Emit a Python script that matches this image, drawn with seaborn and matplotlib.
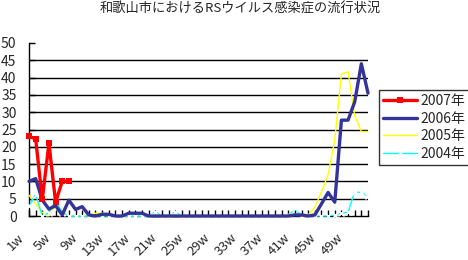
import numpy as np
import pandas as pd
import matplotlib
matplotlib.use("Agg")
import matplotlib.pyplot as plt
import matplotlib.transforms as mtransforms
import seaborn as sns

sns.set_theme(style="white")
plt.rcParams['font.family'] = ['Noto Sans CJK JP', 'DejaVu Sans']

title = "和歌山市におけるRSウイルス感染症の流行状況"
weeks = [f"{i}w" for i in range(1, 53)]
tick_labels = ["1w", "5w", "9w", "13w", "17w", "21w", "25w", "29w", "33w", "37w", "41w", "45w", "49w"]

s2007 = [23, 22.3, 4.8, 21, 4, 10, 10]

s2006 = [10, 10.8, 4.6, 2, 3, 0.3, 4.6, 1.9, 2.7, 0.3,
         0, 0.5, 0.5, 0, 0, 0.8, 0.8, 0.8, 0, 0,
         0, 0, 0, 0, 0, 0, 0, 0, 0, 0,
         0, 0, 0, 0, 0, 0, 0, 0, 0, 0,
         0.3, 0.3, 0, 0.3, 3.5, 6.8, 4, 27.7, 27.7, 33,
         44, 35.5]

s2005 = [6, 3.5, 1, 0, 3, 1.5, 0, 0, 0, 0,
         0.8, 0.8, 0.5, 0, 0, 0, 0, 0, 0, 0.5,
         0, 0, 0.5, 0, 0, 0, 0, 0, 0, 0,
         0, 0, 0, 0, 0, 0, 0, 0, 0, 0.5,
         0.5, 0, 0.3, 2.5, 7, 12, 22, 41, 41.7, 29,
         24.4, 24.4]

s2004 = [2.8, 6.2, 0, 1, 4.5, 1, 0, 0, 0, 0,
         0, 0, 0, 0, 0, 0, 0, 0, 0, 1.2,
         0, 0, 1.2, 0, 0, 0, 0, 0, 0, 0,
         0, 0, 0, 0, 0, 0, 0, 0, 0, 0,
         2.2, 0, 0, 0, 0, 0, 0.3, 0.8, 1.2, 7,
         6.8, 5.8]

series_names = ["2007年", "2006年", "2005年", "2004年"]

def frame(vals):
    return pd.DataFrame({"week": np.arange(len(vals)), "cases": vals})

fig = plt.figure(figsize=(4.68, 2.60), dpi=100)
ax = fig.add_axes([29/468, 1-216/260, (368-29)/468, (216-43)/260])

sns.lineplot(data=frame(s2007), x="week", y="cases", ax=ax, color="#FF0000",
             linewidth=2.4, linestyle="-", marker="s", markersize=4.5, markeredgewidth=0,
             label=series_names[0], clip_on=False, zorder=5)
sns.lineplot(data=frame(s2006), x="week", y="cases", ax=ax, color="#333399",
             linewidth=2.4, linestyle="-", label=series_names[1], clip_on=False, zorder=4)
sns.lineplot(data=frame(s2005), x="week", y="cases", ax=ax, color="#FFFF00",
             linewidth=1.0, linestyle="-", label=series_names[2], clip_on=False, zorder=3)
sns.lineplot(data=frame(s2004), x="week", y="cases", ax=ax, color="#00FFFF",
             linewidth=1.0, linestyle="-", marker="x", markersize=4.5, markeredgewidth=1.0,
             label=series_names[3], clip_on=False, zorder=3)
for ln in ax.get_lines():
    ln.set_linestyle("-")
    ln.set_dashes(None) if False else None

ax.set_xlim(0, 51)
ax.set_ylim(0, 50)
ax.set_yticks(np.arange(0, 51, 5))
ax.set_yticklabels([str(v) for v in range(0, 51, 5)], fontsize=10)
for v in range(5, 50, 5):
    ax.axhline(v, color="black", linewidth=1.0, zorder=1)

ax.set_xticks(np.arange(52), minor=False)
ax.set_xticklabels(["" for _ in weeks])
lab_pos = [weeks.index(t) for t in tick_labels]
for p, t in zip(lab_pos, tick_labels):
    ax.text(p, 0, t, transform=ax.transData + mtransforms.ScaledTranslation(-7/100, -20/100, fig.dpi_scale_trans),
            rotation=45, rotation_mode="anchor", ha="right", va="center", fontsize=9.5, clip_on=False)

ax.tick_params(axis="x", direction="in", length=4, width=1, color="black", bottom=True)
ax.tick_params(axis="y", direction="in", length=4, width=1, color="black", left=True, pad=9)
ax.set_xlabel("")
ax.set_ylabel("")
for side in ["top", "right"]:
    ax.spines[side].set_visible(False)
for side in ["left", "bottom"]:
    ax.spines[side].set_color("black")
    ax.spines[side].set_linewidth(1.0)

ax.get_legend().remove()
handles, labels = ax.get_legend_handles_labels()
for h in handles:
    h.set_linestyle("-")
leg = fig.legend(handles, labels, loc="upper left", bbox_to_anchor=(379/468, 1-90/260),
                 frameon=True, fancybox=False, shadow=False, fontsize=10,
                 handlelength=2.4, handletextpad=0.3, borderpad=0.3, labelspacing=0.25,
                 borderaxespad=0)
leg.get_frame().set_edgecolor("black")
leg.get_frame().set_linewidth(1.0)

fig.text(240/468, 1-9/260, title, ha="center", va="center", fontsize=9.5)

fig.savefig("out.png", dpi=100)
